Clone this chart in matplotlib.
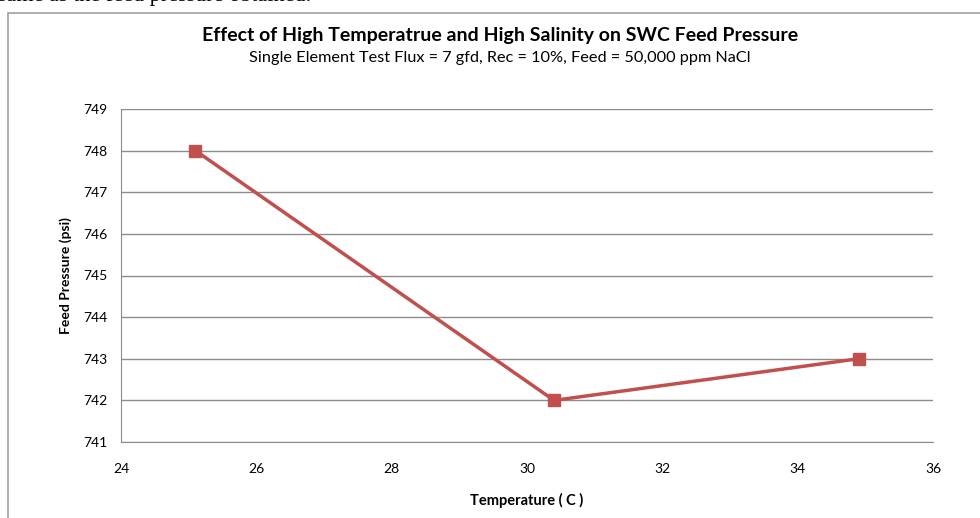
import matplotlib.pyplot as plt
import matplotlib.patches as mpatches

# dados
temperatura = [25.1, 30.4, 34.9]
pressao = [748, 742, 743]
yticks = [741, 742, 743, 744, 745, 746, 747, 748, 749]
xticks = [24, 26, 28, 30, 32, 34, 36]

plt.rcParams['font.family'] = ['Lato', 'DejaVu Sans']

fig = plt.figure(figsize=(9.8, 5.18), dpi=100)
ax = fig.add_axes([121 / 980, 1 - 442 / 518, (933 - 121) / 980, (442 - 109) / 518])

# moldura do grafico (cortada na direita e embaixo)
moldura = mpatches.Rectangle((8 / 980, -0.1), 1.2, 1 - 13 / 518 + 0.1,
                             transform=fig.transFigure, fill=False,
                             edgecolor='#a0a0a0', linewidth=1.2, clip_on=False)
fig.patches.append(moldura)

# texto do documento cortado no topo (so aparece a parte de baixo)
fig.text(-2 / 980, 1 - 1.5 / 518, 'same as the feed pressure obtained.', family='Liberation Serif',
         fontsize=16, ha='left', va='baseline', color='black')

ax.plot(temperatura, pressao, color='#C0504D', linewidth=2.5, marker='s',
        markersize=8, markerfacecolor='#C0504D', markeredgecolor='#C0504D')

ax.set_xlim(24, 36)
ax.set_ylim(741, 749)
ax.set_xticks(xticks)
ax.set_yticks(yticks)
ax.yaxis.grid(True, color='#8c8c8c', linewidth=1)
ax.set_axisbelow(True)
for lado in ['top', 'right']:
    ax.spines[lado].set_visible(False)
for lado in ['left', 'bottom']:
    ax.spines[lado].set_color('#8c8c8c')
ax.tick_params(length=0, labelsize=10, pad=10)
ax.tick_params(axis='x', pad=15)

ax.set_xlabel('Temperature ( C )', fontsize=10.5, fontweight='bold', labelpad=13)
ax.set_ylabel('Feed Pressure (psi)', fontsize=10, fontweight='bold', labelpad=8)

fig.text(500 / 980, 1 - 36 / 518, 'Effect of High Temperatrue and High Salinity on SWC Feed Pressure',
         ha='center', va='center', fontsize=14, fontweight='bold')
fig.text(500 / 980, 1 - 58 / 518, 'Single Element Test Flux = 7 gfd, Rec = 10%, Feed = 50,000 ppm NaCl',
         ha='center', va='center', fontsize=11.7)

fig.savefig('out.png', dpi=100)
